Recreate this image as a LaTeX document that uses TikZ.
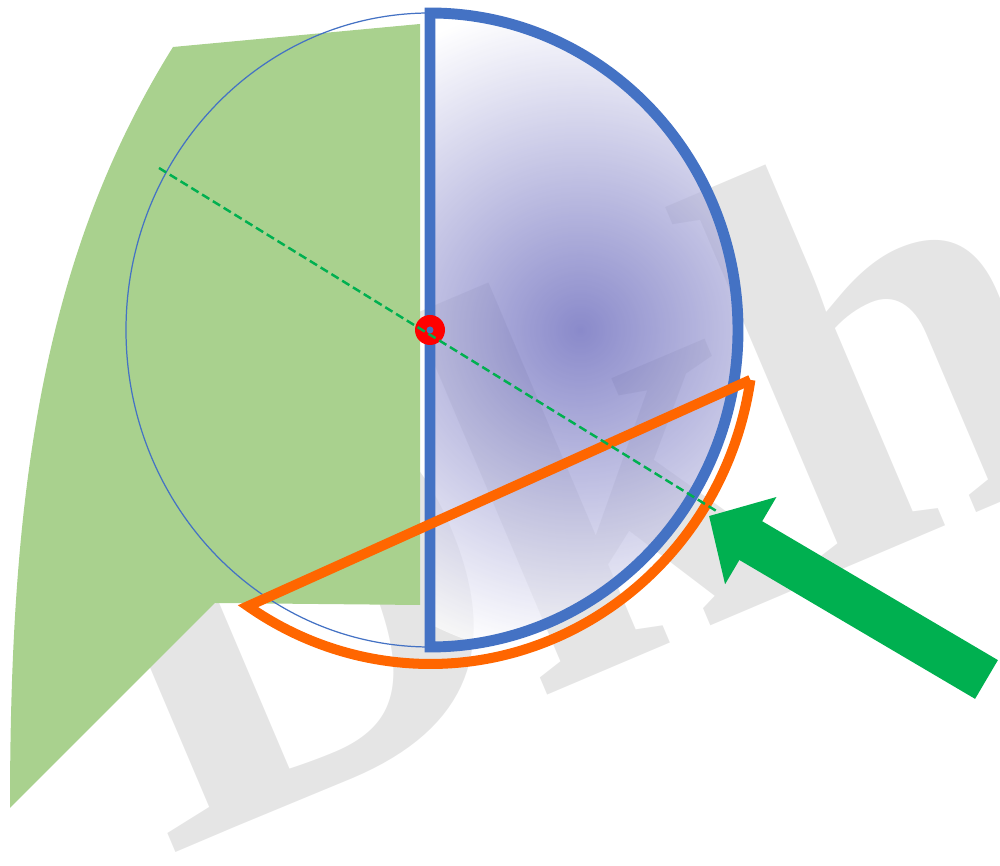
\documentclass[tikz,border=0pt]{standalone}
\usepackage{fontspec}
\usepackage{xcolor}
\usepackage{tikz}
\usetikzlibrary{arrows.meta, calc}
\newfontfamily\markfont{Liberation Serif}
\definecolor{diskblue}{HTML}{4472C4}
\definecolor{leafgreen}{HTML}{A9D18E}
\definecolor{arrowgreen}{HTML}{00B050}
\definecolor{cutorange}{HTML}{FF6600}
\definecolor{shadepurple}{RGB}{88,88,180}
\begin{document}
\begin{tikzpicture}[
    x=0.1mm, y=-0.1mm,
    watermark/.style={text=black!10, font=\markfont\bfseries\fontsize{165pt}{165pt}\selectfont, rotate=23, anchor=base west, inner sep=0pt, outer sep=0pt},
    orbit/.style={draw=diskblue, line width=0.35pt},
    rim/.style={draw=diskblue, line width=3.1pt},
    cut/.style={draw=cutorange, line width=2.85pt},
    axisline/.style={draw=arrowgreen, line width=0.7pt, dash pattern=on 2.4pt off 1.2pt},
    pointer/.style={draw=arrowgreen, line width=12.8pt, -{Triangle[length=13.8pt, width=28pt]}}
]
    \useasboundingbox (0,0) rectangle (1000,866);
    \coordinate (O) at (430,330);
    % watermark behind everything
    \node[watermark] (markD) at (167,857) {D};
    \node[watermark] (markk) at (532,702) {k};
    \node[watermark] (markh) at (809,584) {h};
    % green patch
    \fill[leafgreen] (173,47) -- (420,24) -- (420,605) -- (215,603) -- (10,808)
        .. controls (10,500) and (40,260) .. cycle;
    % shaded half disk
    \begin{scope}
        \clip (430,647) -- (430,13) arc[start angle=-90, end angle=90, x radius=308, y radius=317] -- cycle;
        \shade[inner color=shadepurple, outer color=white, opacity=0.7] (580,330) circle (330);
    \end{scope}
    \draw[orbit] (O) ellipse [x radius=304, y radius=317];
    \draw[rim] (430,647) -- (430,13) arc[start angle=-90, end angle=90, x radius=308, y radius=317] -- cycle;
    % orange segment
    \coordinate (cutR) at ($(O)+(320.4,49.9)$);
    \draw[cut] (cutR) arc[start angle=8.6, end angle=124.2, x radius=324, y radius=334] coordinate (cutL) -- (cutR);
    % centre and axis
    \fill[red] (O) circle (15);
    \coordinate (axA) at (159,168);
    \coordinate (axB) at (718,512);
    \draw[axisline] (axA) -- (axB);
    \fill[diskblue] (O) circle (3.5);
    % big arrow
    \coordinate (tail) at (986.5,679.5);
    \coordinate (tip) at (709,516);
    \draw[pointer] (tail) -- (tip);
\end{tikzpicture}
\end{document}
